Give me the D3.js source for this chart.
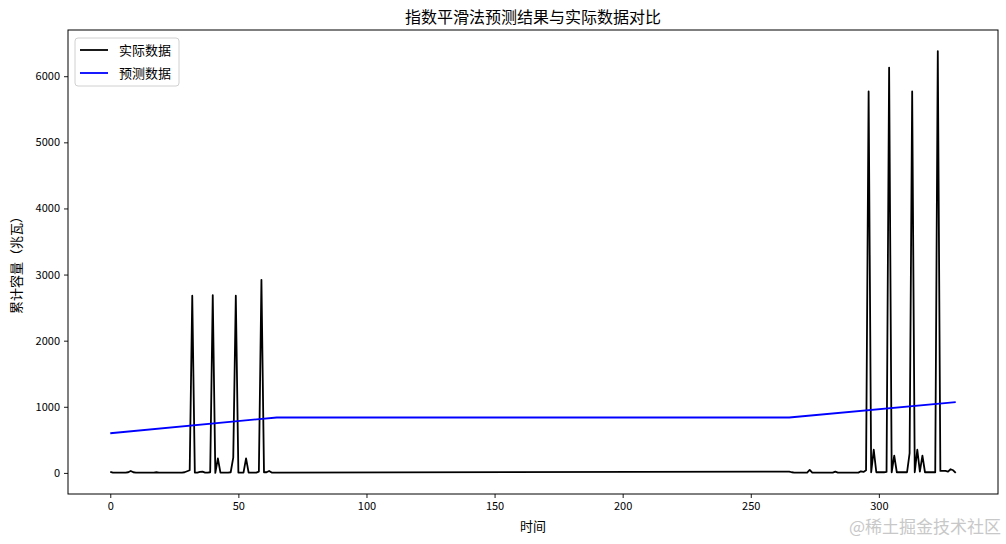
<!DOCTYPE html>
<html>
<head>
<meta charset="utf-8">
<script src="https://cdn.jsdelivr.net/npm/d3@7"></script>
<style>
  html, body { margin: 0; padding: 0; background: #fff; }
  svg { display: block; }
  text { font-family: "Noto Sans CJK SC", "DejaVu Sans", sans-serif; }
</style>
</head>
<body>
<svg id="chart" width="1006" height="544"></svg>
<script>
// ---- data ----
const titleText = "指数平滑法预测结果与实际数据对比";
const xLabelText = "时间";
const yLabelText = "累计容量（兆瓦）";
const legendLabels = ["实际数据", "预测数据"];
const xTicks = [0, 50, 100, 150, 200, 250, 300];
const yTicks = [0, 1000, 2000, 3000, 4000, 5000, 6000];

// time indices of the two observed periods
const timeLeft = d3.range(0, 66);     // 0 .. 65
const timeRight = d3.range(265, 331); // 265 .. 330

// actual values (MW), first period
const actualLeft = [
  15, 5, 5, 5, 5, 5, 5, 10, 30, 10,
  5, 5, 5, 5, 5, 5, 5, 5, 10, 5,
  5, 5, 5, 5, 5, 5, 5, 5, 5, 10,
  25, 40, 2680, 5, 5, 15, 20, 5, 5, 10,
  2690, 0, 220, 5, 5, 5, 5, 10, 230, 2680,
  5, 5, 5, 220, 5, 5, 5, 5, 20, 2920,
  10, 10, 30, 5, 5, 5
];
// actual values (MW), second period
const actualRight = [
  20, 10, 5, 5, 5, 5, 5, 5, 45, 5,
  5, 5, 5, 5, 5, 5, 5, 5, 20, 5,
  5, 5, 5, 5, 5, 5, 5, 5, 25, 15,
  40, 5770, 10, 350, 10, 10, 10, 10, 15, 6130,
  10, 260, 10, 10, 10, 10, 10, 300, 5770, 10,
  350, 20, 260, 10, 10, 10, 10, 10, 6380, 30,
  30, 30, 20, 55, 40, 0
];

// forecast line breakpoints (straight segments)
const forecastTime = [0, 65, 265, 330];
const forecastValue = [600, 838, 838, 1070];

// ---- layout ----
const svg = d3.select("#chart");
const W = 1006, H = 544;
const m = { left: 68, right: 998, top: 30, bottom: 494 };

const actualTime = timeLeft.concat(timeRight);
const actualValue = actualLeft.concat(actualRight);

const xMin = d3.min(actualTime), xMax = d3.max(actualTime);
const xPad = (xMax - xMin) * 0.05;
const yAll = actualValue.concat(forecastValue);
const yMin = d3.min(yAll), yMax = d3.max(yAll);
const yPad = (yMax - yMin) * 0.05;

const x = d3.scaleLinear().domain([xMin - xPad, xMax + xPad]).range([m.left, m.right]);
const y = d3.scaleLinear().domain([yMin - yPad, yMax + yPad]).range([m.bottom, m.top]);

svg.append("rect").attr("width", W).attr("height", H).attr("fill", "#fff");

// lines
const line = d3.line().x(d => x(d[0])).y(d => y(d[1]));
const actualPts = actualTime.map((t, i) => [t, actualValue[i]]);
const forecastPts = forecastTime.map((t, i) => [t, forecastValue[i]]);

const plot = svg.append("g");
plot.append("path").datum(actualPts).attr("d", line)
  .attr("fill", "none").attr("stroke", "#000").attr("stroke-width", 1.8)
  .attr("stroke-linejoin", "round");
plot.append("path").datum(forecastPts).attr("d", line)
  .attr("fill", "none").attr("stroke", "#0000ff").attr("stroke-width", 1.8)
  .attr("stroke-linejoin", "round");

// axes
const xAxis = d3.axisBottom(x).tickValues(xTicks).tickSize(4).tickPadding(4).tickFormat(d3.format("d"));
const yAxis = d3.axisLeft(y).tickValues(yTicks).tickSize(4).tickPadding(4).tickFormat(d3.format("d"));

const gx = svg.append("g").attr("transform", `translate(0,${m.bottom})`).call(xAxis);
const gy = svg.append("g").attr("transform", `translate(${m.left},0)`).call(yAxis);
[gx, gy].forEach(g => {
  g.select(".domain").remove();
  g.selectAll(".tick line").attr("stroke", "#000").attr("stroke-width", 0.9);
  g.selectAll(".tick text").attr("fill", "#000").style("font-size", "11px");
});

// frame
svg.append("rect")
  .attr("x", m.left).attr("y", m.top)
  .attr("width", m.right - m.left).attr("height", m.bottom - m.top)
  .attr("fill", "none").attr("stroke", "#000").attr("stroke-width", 1);

// title and labels
svg.append("text").attr("x", (m.left + m.right) / 2).attr("y", 23)
  .attr("text-anchor", "middle").style("font-size", "16px").attr("fill", "#000")
  .text(titleText);
svg.append("text").attr("x", (m.left + m.right) / 2).attr("y", 531)
  .attr("text-anchor", "middle").style("font-size", "13px").attr("fill", "#000")
  .text(xLabelText);
svg.append("text")
  .attr("transform", `translate(21,${(m.top + m.bottom) / 2}) rotate(-90)`)
  .attr("text-anchor", "middle").style("font-size", "13px").attr("fill", "#000")
  .text(yLabelText);

// legend
const lg = svg.append("g").attr("transform", `translate(${m.left + 7},${m.top + 8})`);
lg.append("rect").attr("x", 0).attr("y", 0).attr("width", 104).attr("height", 48)
  .attr("rx", 3).attr("fill", "#fff").attr("stroke", "#d0d0d0").attr("stroke-width", 1);
const legendColors = ["#000", "#0000ff"];
legendLabels.forEach((lab, i) => {
  const yy = 12 + i * 23;
  lg.append("line").attr("x1", 5).attr("x2", 33).attr("y1", yy).attr("y2", yy)
    .attr("stroke", legendColors[i]).attr("stroke-width", 1.8);
  lg.append("text").attr("x", 44).attr("y", yy + 4.5)
    .style("font-size", "13px").attr("fill", "#000").text(lab);
});

// watermark
svg.append("text").attr("x", 1001).attr("y", 533)
  .attr("text-anchor", "end").style("font-size", "17px").attr("fill", "#c8c8c8")
  .text("@稀土掘金技术社区");
</script>
</body>
</html>
